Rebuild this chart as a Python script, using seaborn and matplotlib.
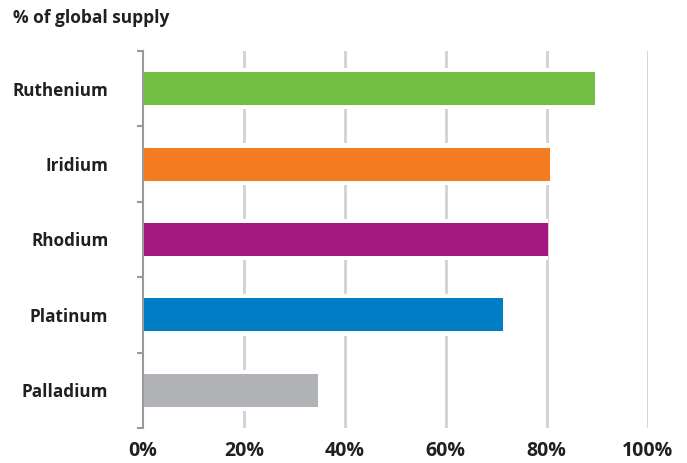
import matplotlib
matplotlib.use("Agg")
import matplotlib.pyplot as plt
import seaborn as sns
import pandas as pd

metals = ["Ruthenium", "Iridium", "Rhodium", "Platinum", "Palladium"]
share = [89.6, 80.7, 80.3, 71.4, 34.7]
colors = ["#72BF44", "#F47B20", "#A3177F", "#007DC5", "#B2B3B6"]
xticks = [0, 20, 40, 60, 80, 100]
xlabels = ["0%", "20%", "40%", "60%", "80%", "100%"]

sns.set_theme(style="white")
plt.rcParams["font.family"] = ["Open Sans", "DejaVu Sans"]

df = pd.DataFrame({"metal": metals, "share": share})

fig = plt.figure(figsize=(6.87, 4.63), dpi=100)
ax = fig.add_axes([143 / 687, 1 - 428 / 463, (647.5 - 143) / 687, (428 - 51) / 463])

# gridlines
for t in xticks[1:]:
    ax.axvline(t, color="#D2D2D2", lw=2, zorder=0)

# white backing bars to break gridlines around bars
sns.barplot(data=df, x="share", y="metal", order=metals, color="white",
            width=0.55, ax=ax, zorder=1, linewidth=0, saturation=1)
sns.barplot(data=df, x="share", y="metal", order=metals, hue="metal",
            palette=colors, legend=False, width=0.44, ax=ax, zorder=2,
            linewidth=0, saturation=1)

ax.set_xlim(0, 100)
ax.set_ylim(4.5, -0.5)
ax.set_xlabel("")
ax.set_ylabel("")

ax.set_xticks(xticks)
ax.set_xticklabels(xlabels, fontsize=14, fontweight="bold", color="#231F20")
ax.tick_params(axis="x", length=0, pad=9)

ax.set_yticks(range(len(metals)))
ax.set_yticklabels(metals, fontsize=12.3, fontweight="bold", color="#231F20")
ax.tick_params(axis="y", which="major", length=0, pad=25)
ax.set_yticks([i - 0.5 for i in range(len(metals) + 1)], minor=True)
ax.tick_params(axis="y", which="minor", length=4, width=1.5, color="#9A9A9A", left=True)

for s in ["top", "right", "bottom"]:
    ax.spines[s].set_visible(False)
ax.spines["left"].set_color("#9A9A9A")
ax.spines["left"].set_linewidth(1.5)

fig.text(13 / 687, 1 - 18 / 463, "% of global supply", fontsize=12.5,
         fontweight="bold", color="#231F20", va="center", ha="left")

fig.savefig("out.png", dpi=100)
